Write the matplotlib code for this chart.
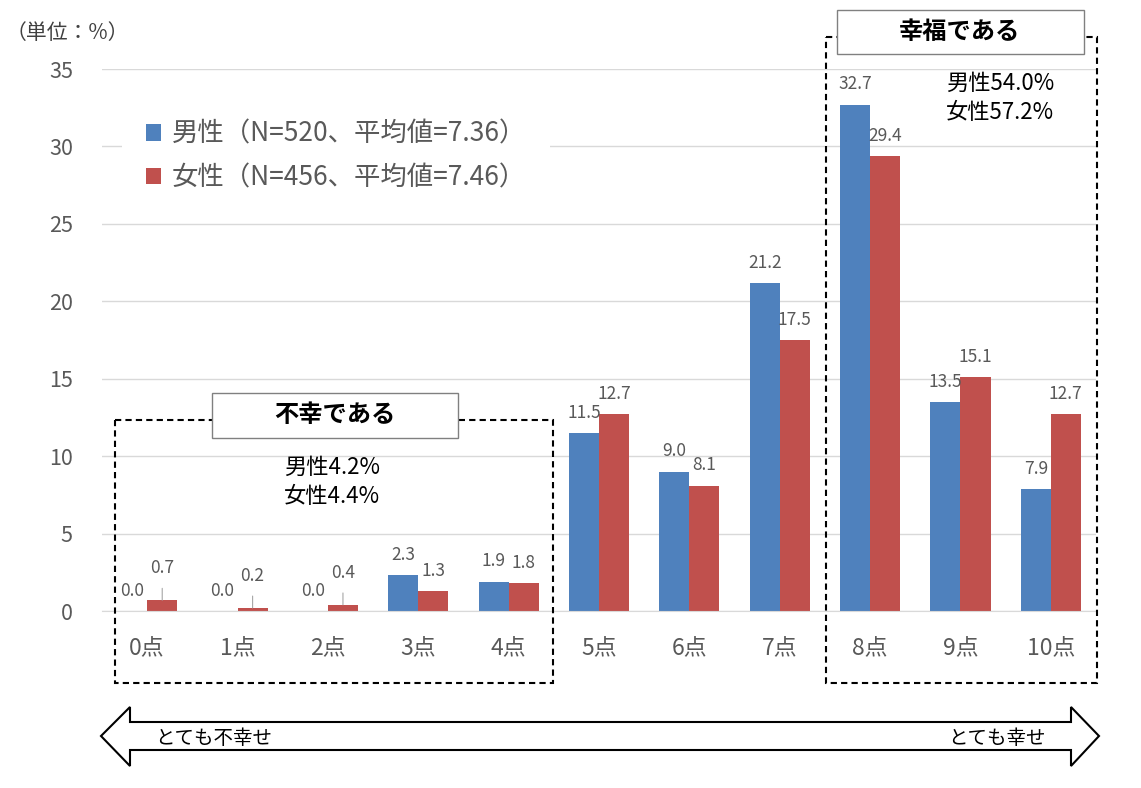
import matplotlib.pyplot as plt
from matplotlib.patches import Rectangle, Polygon
import numpy as np

plt.rcParams['font.family'] = ['Noto Sans CJK JP', 'DejaVu Sans']

categories = ["0点", "1点", "2点", "3点", "4点", "5点", "6点", "7点", "8点", "9点", "10点"]
men = [0.0, 0.0, 0.0, 2.3, 1.9, 11.5, 9.0, 21.2, 32.7, 13.5, 7.9]
women = [0.7, 0.2, 0.4, 1.3, 1.8, 12.7, 8.1, 17.5, 29.4, 15.1, 12.7]
men_label = "男性（N=520、平均値=7.36）"
women_label = "女性（N=456、平均値=7.46）"

BLUE = "#4f81bd"
RED = "#c0504d"
GRAY = "#595959"
W, H = 1141, 788

fig = plt.figure(figsize=(W / 100, H / 100), dpi=100)
ax = fig.add_axes([102 / W, 1 - 611 / H, (1096 - 102) / W, (611 - 69) / H])

x = np.arange(len(categories))
bw = 0.333
ax.bar(x - bw / 2, men, bw, color=BLUE, label=men_label, zorder=2)
ax.bar(x + bw / 2, women, bw, color=RED, label=women_label, zorder=2)

ax.set_xlim(-0.5, 10.5)
ax.set_ylim(0, 35)
ax.set_yticks(range(0, 36, 5))
ax.set_xticks(x)
ax.set_xticklabels(categories)
ax.grid(axis="y", color="#d9d9d9", lw=1, zorder=0)
ax.set_axisbelow(True)
for s in ["top", "right", "left"]:
    ax.spines[s].set_visible(False)
ax.spines["bottom"].set_color("#d9d9d9")
ax.tick_params(axis="both", length=0, colors=GRAY)
ax.tick_params(axis="y", labelsize=15.5, pad=21)
ax.tick_params(axis="x", labelsize=16.5, pad=19)

# data labels
for xs, vals, col in [(x - bw / 2, men, "m"), (x + bw / 2, women, "w")]:
    for xi, v in zip(xs, vals):
        if col == "w" and v < 1:
            ax.annotate(f"{v:.1f}", xy=(xi, v), xytext=(0, 23), textcoords="offset points",
                        ha="center", va="center", fontsize=12.5, color=GRAY,
                        arrowprops=dict(arrowstyle="-", color="#a6a6a6", lw=0.8,
                                        shrinkA=6, shrinkB=0))
        else:
            ax.annotate(f"{v:.1f}", xy=(xi, v), xytext=(0, 14.5), textcoords="offset points",
                        ha="center", va="center", fontsize=12.5, color=GRAY)

leg = ax.legend(loc="upper left", bbox_to_anchor=(0.02, 0.948), fontsize=19,
                frameon=True, facecolor="white", edgecolor="none", framealpha=1,
                handlelength=0.6, handleheight=0.6, handletextpad=0.4,
                labelspacing=0.62, borderaxespad=0, borderpad=0.9, fancybox=False)
for t in leg.get_texts():
    t.set_color(GRAY)

# overlay in pixel coordinates
ov = fig.add_axes([0, 0, 1, 1], zorder=5)
ov.set_xlim(0, W)
ov.set_ylim(H, 0)
ov.axis("off")
ov.patch.set_alpha(0)

ov.text(6, 33, "（単位：%）", fontsize=15, color="#404040", ha="left", va="center")

# dashed group boxes
ov.add_patch(Rectangle((115, 420), 553 - 115, 683 - 420, fill=False, ec="black",
                       lw=1.5, ls=(0, (3, 2))))
ov.add_patch(Rectangle((826, 37), 1097 - 826, 683 - 37, fill=False, ec="black",
                       lw=1.5, ls=(0, (3, 2))))

# title boxes
ov.add_patch(Rectangle((212, 393), 458 - 212, 438 - 393, fc="white", ec="#808080", lw=1))
ov.text(335, 415, "不幸である", fontsize=17.5, fontweight="bold", ha="center", va="center")
ov.add_patch(Rectangle((837, 10), 1084 - 837, 54 - 10, fc="white", ec="#808080", lw=1))
ov.text(960, 32, "幸福である", fontsize=17.5, fontweight="bold", ha="center", va="center")

ov.text(332, 482, "男性4.2%\n女性4.4%", fontsize=16, ha="center", va="center",
        linespacing=1.3)
ov.text(1000, 98, "男性54.0%\n女性57.2%", fontsize=16, ha="center", va="center",
        linespacing=1.3)

# double-headed arrow
arrow = [(101, 736), (130, 707), (130, 722), (1071, 722), (1071, 707), (1099, 736),
         (1071, 766), (1071, 750), (130, 750), (130, 766)]
ov.add_patch(Polygon(arrow, closed=True, fc="white", ec="black", lw=1.5))
ov.text(155, 738, "とても不幸せ", fontsize=14, ha="left", va="center")
ov.text(1046, 738, "とても幸せ", fontsize=14, ha="right", va="center")

fig.savefig("out.png", dpi=100)
